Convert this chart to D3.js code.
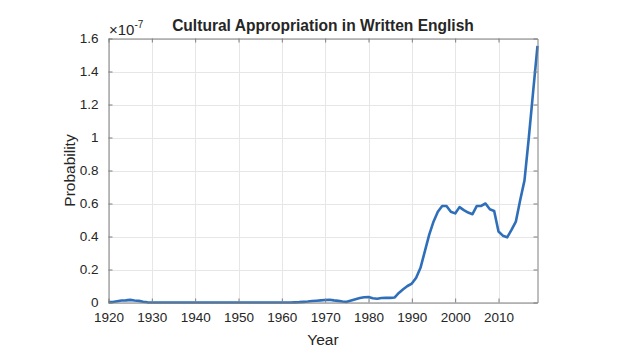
<!DOCTYPE html>
<html>
<head>
<meta charset="utf-8">
<script src="https://cdn.jsdelivr.net/npm/d3@7"></script>
<style>
html,body{margin:0;padding:0;background:#fff;}
svg{display:block;}
text{font-family:"Liberation Sans",Arial,Helvetica,sans-serif;fill:#262626;}
</style>
</head>
<body>
<svg id="chart" width="624" height="357"></svg>
<script>
const years = [1920,1921,1922,1923,1924,1925,1926,1927,1928,1929,
1930,1931,1932,1933,1934,1935,1936,1937,1938,1939,
1940,1941,1942,1943,1944,1945,1946,1947,1948,1949,
1950,1951,1952,1953,1954,1955,1956,1957,1958,1959,
1960,1961,1962,1963,1964,1965,1966,1967,1968,1969,
1970,1971,1972,1973,1974,1975,1976,1977,1978,1979,
1980,1981,1982,1983,1984,1985,1986,1987,1988,1989,
1990,1991,1992,1993,1994,1995,1996,1997,1998,1999,
2000,2001,2002,2003,2004,2005,2006,2007,2008,2009,
2010,2011,2012,2013,2014,2015,2016,2017,2018,2019];
// probability in units of 1e-7
const probability = [0.002,0.003,0.008,0.012,0.013,0.016,0.012,0.010,0.005,0.001,
0,0,0,0,0,0,0,0,0,0,
0,0,0,0,0,0,0,0,0,0,
0,0,0,0,0,0,0,0,0,0,
0,0,0,0.001,0.002,0.004,0.006,0.009,0.011,0.013,
0.015,0.017,0.013,0.010,0.006,0.004,0.012,0.020,0.027,0.032,
0.033,0.026,0.023,0.027,0.028,0.028,0.030,0.058,0.080,0.100,
0.115,0.150,0.210,0.310,0.410,0.490,0.550,0.585,0.585,0.550,
0.540,0.578,0.560,0.545,0.535,0.585,0.585,0.600,0.565,0.555,
0.430,0.405,0.395,0.440,0.490,0.620,0.740,1.000,1.280,1.555];
const xTicks = [1920,1930,1940,1950,1960,1970,1980,1990,2000,2010];
const yTicks = [0,0.2,0.4,0.6,0.8,1,1.2,1.4,1.6];
const title = "Cultural Appropriation in Written English";
const xLabel = "Year";
const yLabel = "Probability";

const svg = d3.select("#chart");
const L = 108.5, R = 537.5, T = 38.5, B = 302.5;
const x = d3.scaleLinear().domain([1920, 2019]).range([L, R]);
const y = d3.scaleLinear().domain([0, 1.6]).range([B, T]);

// grid
const g = svg.append("g");
g.selectAll(".vg").data(xTicks).enter().append("line")
  .attr("x1", d => Math.round(x(d)) + 0.5).attr("x2", d => Math.round(x(d)) + 0.5)
  .attr("y1", T).attr("y2", B).attr("stroke", "#e6e6e6").attr("stroke-width", 1);
g.selectAll(".hg").data(yTicks).enter().append("line")
  .attr("y1", d => Math.round(y(d)) + 0.5).attr("y2", d => Math.round(y(d)) + 0.5)
  .attr("x1", L).attr("x2", R).attr("stroke", "#e6e6e6").attr("stroke-width", 1);

// axes (MATLAB style: inward ticks, box)
const axCol = "#7f7f7f";
const xAxisB = d3.axisBottom(x).tickValues(xTicks).tickSizeInner(-4).tickSizeOuter(0).tickPadding(10).tickFormat(d3.format("d"));
const xAxisT = d3.axisTop(x).tickValues(xTicks).tickSizeInner(-4).tickSizeOuter(0).tickFormat("");
const yAxisL = d3.axisLeft(y).tickValues(yTicks).tickSizeInner(-4).tickSizeOuter(0).tickPadding(10).tickFormat(d => d3.format("")(d));
const yAxisR = d3.axisRight(y).tickValues(yTicks).tickSizeInner(-4).tickSizeOuter(0).tickFormat("");

function style(sel) {
  sel.selectAll("path").attr("stroke", axCol);
  sel.selectAll("line").attr("stroke", axCol);
  sel.selectAll("text").attr("font-family", "Liberation Sans, Arial, sans-serif").attr("font-size", 13.5).attr("fill", "#262626");
}

// line
const line = d3.line().x((d, i) => x(years[i])).y(d => y(d));
svg.append("path").datum(probability)
  .attr("d", line).attr("fill", "none").attr("stroke", "#2f6fba")
  .attr("stroke-width", 2.6).attr("stroke-linejoin", "round");

svg.append("g").attr("transform", `translate(0,${B})`).call(xAxisB).call(style);
svg.append("g").attr("transform", `translate(0,${T})`).call(xAxisT).call(style);
svg.append("g").attr("transform", `translate(${L},0)`).call(yAxisL).call(style);
svg.append("g").attr("transform", `translate(${R},0)`).call(yAxisR).call(style);

// exponent
const ex = svg.append("text").attr("x", 109).attr("y", 35).attr("font-size", 15).attr("fill", "#555");
ex.append("tspan").text("\u00d710");
ex.append("tspan").attr("dy", -7).attr("font-size", 10).text("-7");

// title
const tt = svg.append("text").attr("x", 323).attr("y", 31).attr("text-anchor", "middle")
  .attr("font-size", 15).attr("font-weight", "bold").attr("fill", "#000").text(title);
const w = tt.node().getComputedTextLength();
tt.attr("font-size", 15 * 302 / w);

// labels
svg.append("text").attr("x", (L + R) / 2).attr("y", 345).attr("text-anchor", "middle")
  .attr("font-size", 15.5).text(xLabel);
svg.append("text").attr("transform", `translate(75,${(T + B) / 2}) rotate(-90)`)
  .attr("text-anchor", "middle").attr("font-size", 15.5).text(yLabel);
</script>
</body>
</html>
